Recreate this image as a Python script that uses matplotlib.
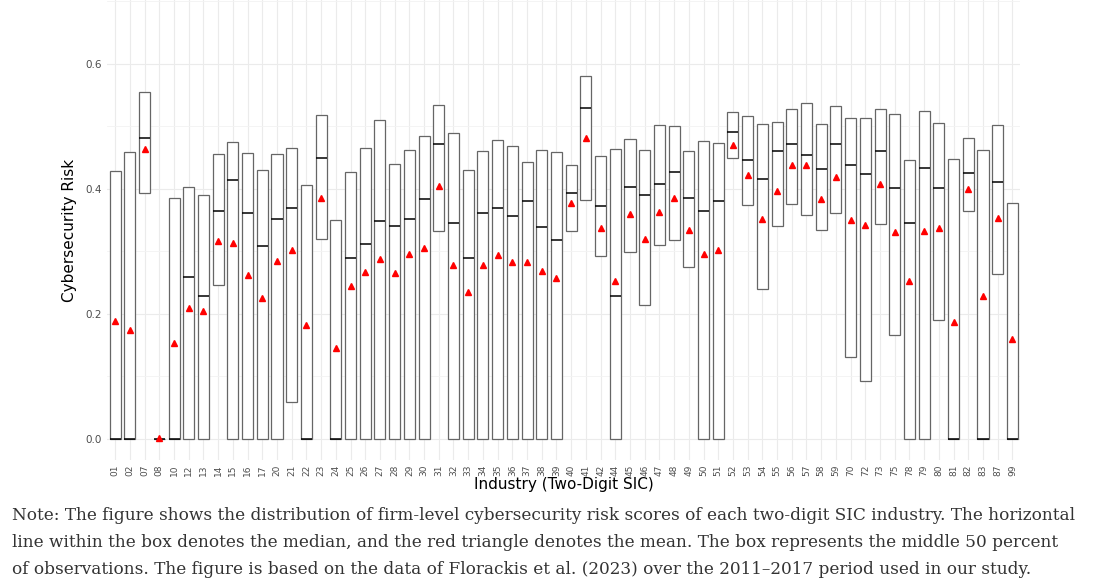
import matplotlib
matplotlib.use("Agg")
import matplotlib.pyplot as plt

sic = ["01", "02", "07", "08", "10", "12", "13", "14", "15", "16", "17", "20", "21",
       "22", "23", "24", "25", "26", "27", "28", "29", "30", "31", "32", "33", "34",
       "35", "36", "37", "38", "39", "40", "41", "42", "44", "45", "46", "47", "48",
       "49", "50", "51", "52", "53", "54", "55", "56", "57", "58", "59", "70", "72",
       "73", "75", "78", "79", "80", "81", "82", "83", "87", "99"]

q1 = [0.0, 0.0, 0.393, 0.0, 0.0, 0.0, 0.0, 0.247, 0.0, 0.0, 0.0, 0.0, 0.059,
      0.0, 0.320, 0.0, 0.0, 0.0, 0.0, 0.0, 0.0, 0.0, 0.332, 0.0, 0.0, 0.0,
      0.0, 0.0, 0.0, 0.0, 0.0, 0.332, 0.382, 0.292, 0.0, 0.299, 0.215, 0.310, 0.318,
      0.275, 0.0, 0.0, 0.450, 0.374, 0.240, 0.340, 0.375, 0.358, 0.334, 0.361, 0.131, 0.092,
      0.343, 0.166, 0.0, 0.0, 0.191, 0.0, 0.365, 0.0, 0.264, 0.0]

median = [0.0, 0.0, 0.482, 0.0, 0.0, 0.259, 0.228, 0.365, 0.414, 0.362, 0.309, 0.352, 0.369,
          0.0, 0.450, 0.0, 0.290, 0.311, 0.349, 0.340, 0.351, 0.383, 0.471, 0.346, 0.289, 0.361,
          0.369, 0.357, 0.380, 0.339, 0.318, 0.393, 0.529, 0.373, 0.228, 0.403, 0.390, 0.407, 0.427,
          0.385, 0.365, 0.381, 0.491, 0.446, 0.415, 0.461, 0.471, 0.454, 0.431, 0.472, 0.438, 0.423,
          0.461, 0.401, 0.346, 0.434, 0.401, 0.0, 0.425, 0.0, 0.411, 0.0]

q3 = [0.428, 0.459, 0.555, 0.0, 0.385, 0.403, 0.390, 0.455, 0.475, 0.457, 0.430, 0.455, 0.465,
      0.406, 0.518, 0.350, 0.427, 0.465, 0.510, 0.440, 0.462, 0.485, 0.534, 0.489, 0.430, 0.460,
      0.478, 0.468, 0.443, 0.462, 0.459, 0.438, 0.581, 0.452, 0.464, 0.479, 0.462, 0.502, 0.500,
      0.460, 0.477, 0.473, 0.523, 0.516, 0.503, 0.507, 0.527, 0.537, 0.503, 0.532, 0.513, 0.513,
      0.527, 0.519, 0.446, 0.524, 0.505, 0.448, 0.482, 0.462, 0.502, 0.377]

mean = [0.189, 0.174, 0.463, 0.001, 0.154, 0.210, 0.204, 0.317, 0.313, 0.262, 0.225, 0.284, 0.302,
        0.183, 0.386, 0.146, 0.245, 0.267, 0.288, 0.265, 0.295, 0.306, 0.404, 0.278, 0.235, 0.278,
        0.294, 0.283, 0.283, 0.269, 0.257, 0.378, 0.482, 0.337, 0.253, 0.360, 0.320, 0.363, 0.386,
        0.334, 0.296, 0.302, 0.470, 0.422, 0.351, 0.397, 0.438, 0.438, 0.384, 0.419, 0.350, 0.342,
        0.408, 0.331, 0.253, 0.333, 0.337, 0.187, 0.400, 0.229, 0.354, 0.160]

note = ("Note: The figure shows the distribution of firm-level cybersecurity risk scores of each two-digit SIC industry. The horizontal\n"
        "line within the box denotes the median, and the red triangle denotes the mean. The box represents the middle 50 percent\n"
        "of observations. The figure is based on the data of Florackis et al. (2023) over the 2011\u20132017 period used in our study.")

# box stats: no whiskers, box spans the interquartile range
stats = []
for i in range(len(sic)):
    stats.append({"q1": q1[i], "med": median[i], "q3": q3[i],
                  "whislo": q1[i], "whishi": q3[i], "mean": mean[i], "fliers": []})

fig = plt.figure(figsize=(10.93, 5.87), dpi=100)
ax = fig.add_axes([0.098, 0.216, 0.835, 0.784])

pos = list(range(len(sic)))
ax.bxp(stats, positions=pos, widths=0.75, showcaps=False, showfliers=False,
       showmeans=True, patch_artist=True,
       boxprops=dict(facecolor="white", edgecolor="#666666", linewidth=0.9),
       medianprops=dict(color="black", linewidth=1.1),
       whiskerprops=dict(linewidth=0),
       meanprops=dict(marker="^", markerfacecolor="red", markeredgecolor="red", markersize=5))

ax.set_xlim(-0.55, len(sic) - 0.5)
ax.set_ylim(-0.034, 0.702)
ax.set_xticks(pos)
ax.set_xticklabels(sic, rotation=90, fontsize=6.5, color="#4d4d4d")
ax.set_yticks([0.0, 0.2, 0.4, 0.6])
ax.set_yticklabels(["0.0", "0.2", "0.4", "0.6"], fontsize=7.5, color="#4d4d4d")
ax.set_yticks([0.1, 0.3, 0.5, 0.7], minor=True)
ax.tick_params(axis="x", which="both", length=0, pad=3)
ax.tick_params(axis="y", which="both", length=0, pad=4)

ax.grid(True, which="major", color="#ebebeb", linewidth=0.8)
ax.grid(True, which="minor", axis="y", color="#f3f3f3", linewidth=0.6)
ax.set_axisbelow(True)
for s in ax.spines.values():
    s.set_visible(False)

ax.set_ylabel("Cybersecurity Risk", fontsize=11, labelpad=6)
ax.set_xlabel("Industry (Two-Digit SIC)", fontsize=11, labelpad=1)

fig.text(0.011, 0.0155, note, ha="left", va="bottom", fontsize=12.2,
         family="DejaVu Serif", color="#333333", linespacing=1.78)

fig.savefig("out.png", dpi=100)
